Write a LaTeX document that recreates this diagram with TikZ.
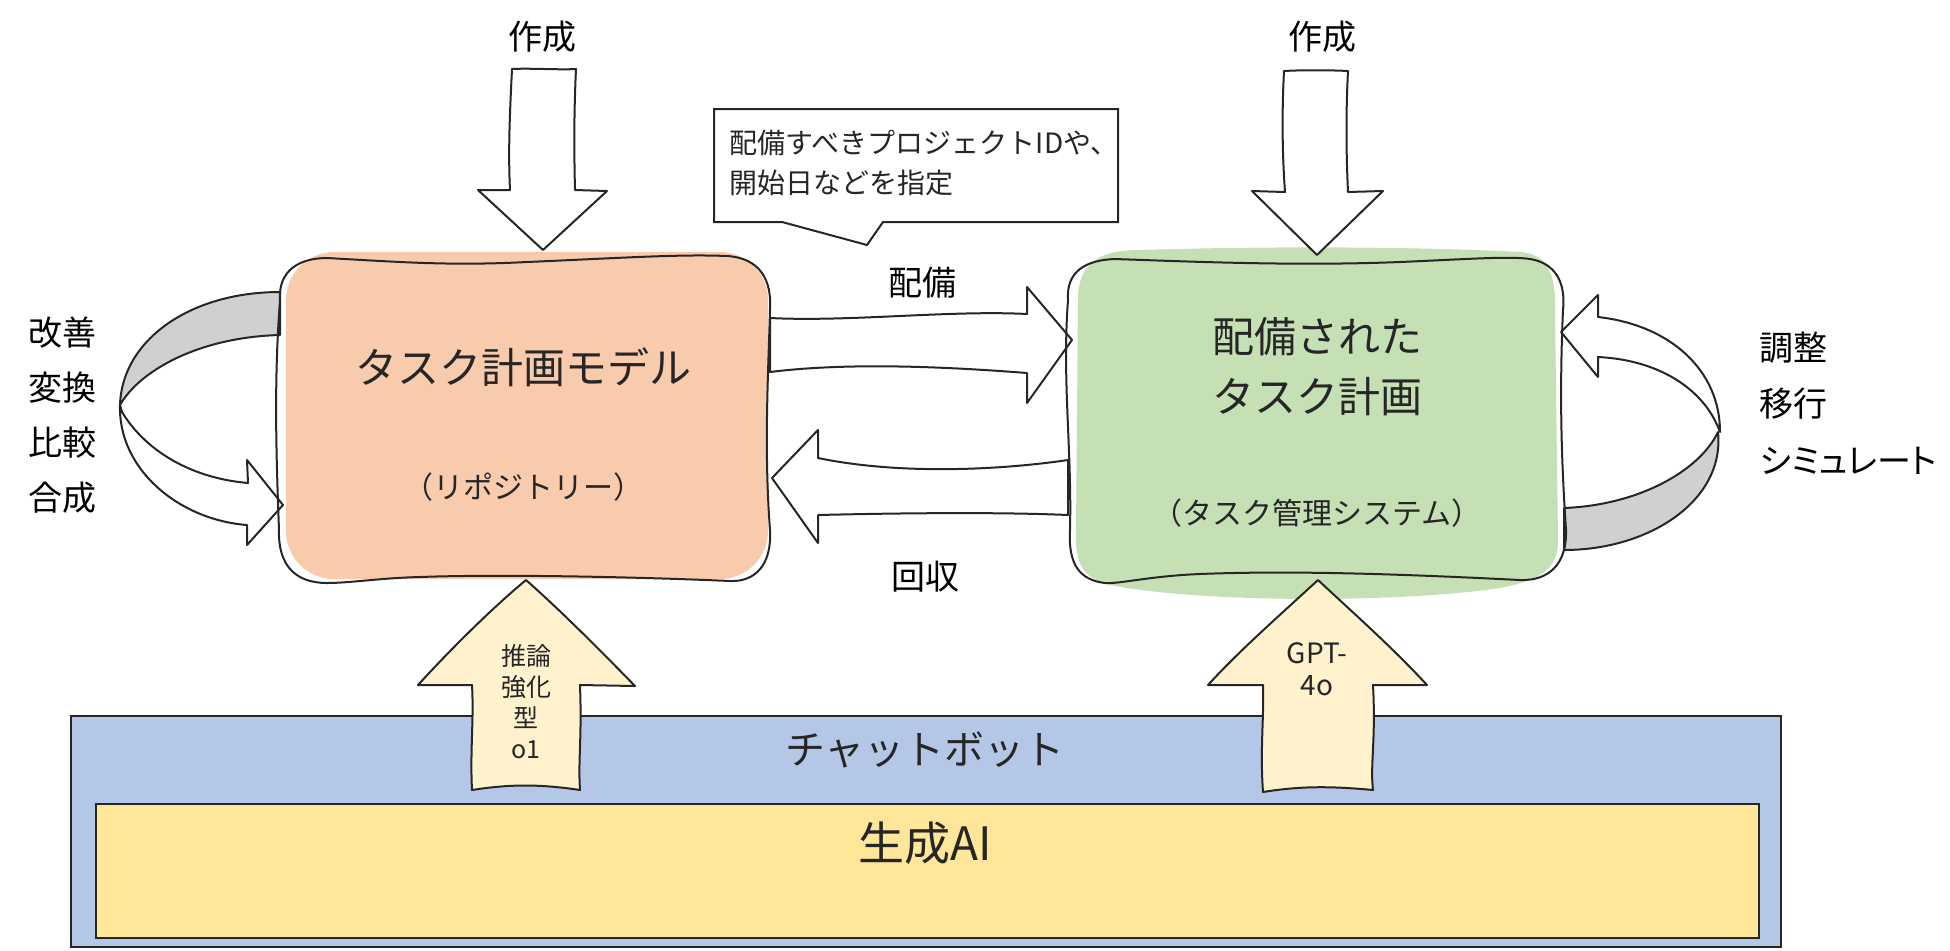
\documentclass[tikz,border=0pt]{standalone}
\usepackage{fontspec}
\setmainfont{Noto Sans CJK JP}
\newfontfamily\paltfont{Noto Sans CJK JP}[RawFeature=+palt]
\usepackage{tikz}

\definecolor{ink}{HTML}{262626}
\definecolor{peach}{HTML}{F8CBAD}
\definecolor{mint}{HTML}{C5E0B4}
\definecolor{skyblue}{HTML}{B4C7E7}
\definecolor{gold}{HTML}{FFE699}
\definecolor{cream}{HTML}{FFF2CC}
\definecolor{ribbon}{HTML}{D0D0D0}

\begin{document}
\begin{tikzpicture}[x=0.5pt,y=0.5pt,yscale=-1,xscale=1,
    outline/.style={draw=ink, line width=1pt, line join=round},
    blockarrow/.style={draw=ink, fill=white, line width=1pt, line join=round},
    lbl/.style={inner sep=0.75pt, text=black, font=\fontsize{17}{27.5}\selectfont, align=center},
    boxtitle/.style={inner sep=0.75pt, text=ink, font=\fontsize{21}{30}\selectfont, align=center},
    boxsub/.style={inner sep=0.75pt, text=ink, font=\fontsize{15}{20}\selectfont, align=center}]
    \useasboundingbox (0,0) rectangle (1950,950);

    %Shape: Rectangle [chatbot layer]
    \draw [fill=skyblue, draw=ink, line width=1.4pt] (71,716) rectangle (1781,947);
    %Shape: Rectangle [generative AI layer]
    \draw [fill=gold, draw=ink, line width=1pt] (96,804) rectangle (1759,938);

    %Shape: Fill of task plan model
    \fill [peach, rounded corners=24pt] (286,252) rectangle (768,579);
    %Shape: Fill of deployed task plan
    \fill [mint] (1078,300) .. controls (1078,262) and (1100,250) .. (1140,250) .. controls (1300,245) and (1450,248) .. (1520,252) .. controls (1548,254) and (1556,275) .. (1555,310) -- (1558,540) .. controls (1558,570) and (1540,580) .. (1500,588) .. controls (1400,603) and (1200,603) .. (1110,585) .. controls (1080,578) and (1075,560) .. (1076,530) -- cycle;

    %Shape: Down Arrow [create, left]
    \draw [blockarrow] (512,69) .. controls (530,68) and (560,70) .. (576,69) .. controls (574,110) and (574,150) .. (575,190) -- (607,191) -- (543,250) -- (478,190) -- (510,190) .. controls (508,150) and (510,110) .. (512,69) -- cycle;
    %Shape: Down Arrow [create, right]
    \draw [blockarrow] (1284,71) .. controls (1300,70) and (1330,70) .. (1348,71) .. controls (1346,110) and (1346,150) .. (1348,192) -- (1383,191) -- (1317,255) -- (1252,191) -- (1285,192) .. controls (1282,150) and (1282,110) .. (1284,71) -- cycle;

    %Shape: Callout
    \draw [fill=white, draw=ink, line width=1pt] (714,109) -- (1118,109) -- (1118,222) -- (883,222) -- (867,245) -- (782,222) -- (714,222) -- cycle;

    %Shape: Right Arrow [deploy]
    \draw [blockarrow] (770,318) .. controls (850,322) and (950,310) .. (1027,314) -- (1027,287) -- (1072,340) -- (1027,403) -- (1027,373) .. controls (950,367) and (850,362) .. (770,372) -- cycle;
    %Shape: Left Arrow [collect]
    \draw [blockarrow] (818,458) .. controls (900,475) and (1000,470) .. (1068,460) -- (1068,515) .. controls (1000,512) and (900,513) .. (818,515) -- (818,543) -- (772,478) -- (818,430) -- cycle;

    %Shape: Curved Arrow [left loop]
    \draw [outline, fill=ribbon] (280,292) .. controls (190,292) and (122,340) .. (120,405) .. controls (140,370) and (200,337) .. (280,335) -- cycle;
    \draw [blockarrow] (120,405) .. controls (118,470) and (180,520) .. (247,525) -- (247,545) -- (283,505) -- (247,460) -- (248,483) .. controls (190,478) and (145,450) .. (122,412) -- cycle;
    %Shape: Curved Arrow [right loop]
    \draw [outline, fill=ribbon] (1564,508) .. controls (1640,505) and (1700,470) .. (1718,432) .. controls (1725,500) and (1650,550) .. (1564,550) -- cycle;
    \draw [blockarrow] (1598,317) .. controls (1670,325) and (1720,370) .. (1720,432) .. controls (1705,390) and (1660,360) .. (1598,357) -- (1598,377) -- (1561,332) -- (1598,295) -- cycle;

    %Shape: Up Arrow [o1]
    \draw [blockarrow, fill=cream] (526,580) .. controls (560,610) and (600,650) .. (635,686) -- (580,685) .. controls (582,740) and (578,760) .. (580,790) .. controls (540,784) and (510,784) .. (472,790) .. controls (470,750) and (474,720) .. (472,685) -- (418,685) .. controls (450,650) and (490,610) .. (526,580) -- cycle;
    %Shape: Up Arrow [GPT-4o]
    \draw [blockarrow, fill=cream] (1318,580) .. controls (1350,610) and (1390,645) .. (1427,685) -- (1373,685) .. controls (1376,740) and (1370,765) .. (1373,790) .. controls (1330,786) and (1300,786) .. (1263,792) .. controls (1260,750) and (1264,720) .. (1263,685) -- (1208,685) .. controls (1240,650) and (1280,615) .. (1318,580) -- cycle;

    %Shape: Outline of task plan model
    \draw [outline] (280,300) .. controls (278,270) and (300,258) .. (327,258) .. controls (400,262) and (450,266) .. (527,262) .. controls (620,258) and (680,254) .. (727,256) .. controls (760,258) and (772,280) .. (770,310) .. controls (768,380) and (764,450) .. (770,530) .. controls (772,565) and (755,582) .. (730,581) .. controls (640,577) and (500,574) .. (420,577) .. controls (380,578) and (350,583) .. (327,583) .. controls (295,583) and (278,565) .. (279,530) .. controls (276,450) and (274,380) .. (280,300) -- cycle;
    %Shape: Outline of deployed task plan
    \draw [outline] (1068,300) .. controls (1066,272) and (1085,260) .. (1115,259) .. controls (1200,262) and (1300,266) .. (1400,262) .. controls (1470,259) and (1510,256) .. (1530,259) .. controls (1555,263) and (1566,282) .. (1563,310) .. controls (1559,400) and (1562,470) .. (1566,530) .. controls (1567,565) and (1548,581) .. (1520,580) .. controls (1420,575) and (1300,570) .. (1200,574) .. controls (1150,576) and (1120,584) .. (1105,583) .. controls (1080,580) and (1068,565) .. (1070,530) .. controls (1072,450) and (1062,380) .. (1068,300) -- cycle;

    % Text Node
    \node [boxtitle] (model) at (523,367) {タスク計画モデル};
    % Text Node
    \node [boxsub] (repo) at (523,487) {（リポジトリー）};
    % Text Node
    \node [boxtitle] (plan) at (1317,367) {配備された\\タスク計画};
    % Text Node
    \node [boxsub] (tms) at (1317,513) {（タスク管理システム）};
    % Text Node
    \node [lbl] (createL) at (542,37) {作成};
    % Text Node
    \node [lbl] (createR) at (1322,37) {作成};
    % Text Node
    \node [inner sep=0.75pt, text=ink, font=\fontsize{14}{20}\selectfont, align=left, anchor=west] (note) at (728,163) {配備すべきプロジェクトIDや、\\開始日などを指定};
    % Text Node
    \node [lbl] (deploy) at (922,283) {配備};
    % Text Node
    \node [lbl] (collect) at (925,577) {回収};
    % Text Node
    \node [lbl] (ops) at (62,415) {改善\\変換\\比較\\合成};
    % Text Node
    \node [lbl, align=left, anchor=west, font=\paltfont\fontsize{17}{28.3}\selectfont] (adjust) at (1758,403) {調整\\移行\\シミュレート};
    % Text Node
    \node [inner sep=0.75pt, text=ink, font=\fontsize{12.5}{15.5}\selectfont, align=center] (oone) at (526,702) {推論\\強化\\型\\o1};
    % Text Node
    \node [inner sep=0.75pt, text=ink, font=\fontsize{14}{16}\selectfont, align=center] (gpt) at (1317,669) {GPT-\\4o};
    % Text Node
    \node [inner sep=0.75pt, text=ink, font=\fontsize{20}{24}\selectfont] (chatbot) at (925,750) {チャットボット};
    % Text Node
    \node [inner sep=0.75pt, text=ink, font=\fontsize{23}{28}\selectfont] (genai) at (925,843) {生成AI};
\end{tikzpicture}
\end{document}
